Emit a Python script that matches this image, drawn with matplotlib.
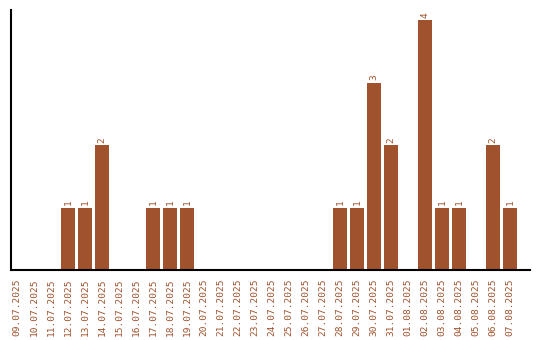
import matplotlib
matplotlib.use("Agg")
import matplotlib.pyplot as plt

dates = ["09.07.2025", "10.07.2025", "11.07.2025", "12.07.2025", "13.07.2025",
         "14.07.2025", "15.07.2025", "16.07.2025", "17.07.2025", "18.07.2025",
         "19.07.2025", "20.07.2025", "21.07.2025", "22.07.2025", "23.07.2025",
         "24.07.2025", "25.07.2025", "26.07.2025", "27.07.2025", "28.07.2025",
         "29.07.2025", "30.07.2025", "31.07.2025", "01.08.2025", "02.08.2025",
         "03.08.2025", "04.08.2025", "05.08.2025", "06.08.2025", "07.08.2025"]
counts = [0, 0, 0, 1, 1, 2, 0, 0, 1, 1, 1, 0, 0, 0, 0, 0, 0, 0, 0, 1,
          1, 3, 2, 0, 4, 1, 1, 0, 2, 1]

color = "#A0522D"
fig = plt.figure(figsize=(5.4, 3.4), dpi=100)
ax = fig.add_axes([11/540, 70/340, 519/540, 260/340])
x = list(range(len(dates)))
bars = ax.bar(x, counts, width=0.82, color=color)
for xi, v in zip(x, counts):
    if v > 0:
        ax.text(xi, v + 0.04, str(v), rotation=90, ha="center", va="bottom",
                color=color, fontsize=6.8, family="DejaVu Sans Mono")
ax.set_xlim(-0.35, 30.18)
ax.set_ylim(0, 4.16)
ax.set_xticks(x)
ax.set_xticklabels(dates, rotation=90, color=color, fontsize=6.8,
                   family="DejaVu Sans Mono")
ax.tick_params(axis="x", length=0, pad=6)
ax.set_yticks([])
for s in ["top", "right"]:
    ax.spines[s].set_visible(False)
for s in ["left", "bottom"]:
    ax.spines[s].set_linewidth(1.5)
fig.savefig("out.png", dpi=100)
